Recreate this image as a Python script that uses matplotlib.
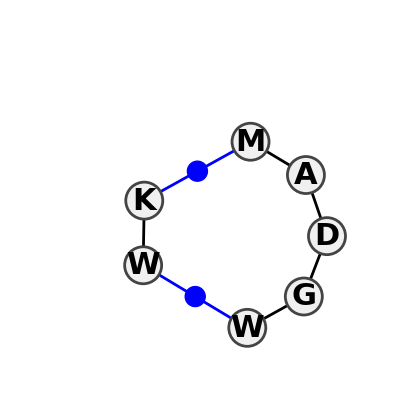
import numpy as np
import matplotlib
matplotlib.use("Agg")
import matplotlib.pyplot as plt
from matplotlib.patches import Circle

# ring order on the wheel; None marks an empty slot bridged by a linker
ring = ["M", "A", "D", "G", "W", None, "W", "K", None]
bond_colors = ["black", "black", "black", "black", "blue", "blue", "black", "blue", "blue"]

center = (232.5, 234.5)
radius = 94.5
start_angle = 79.0

fig = plt.figure(figsize=(4.0, 4.03), dpi=100)
ax = fig.add_axes([0, 0, 1, 1])
ax.set_xlim(0, 400)
ax.set_ylim(403, 0)
ax.set_aspect("equal")
ax.axis("off")

n = len(ring)
ang = np.deg2rad(start_angle - 360.0 / n * np.arange(n))
xs = center[0] + radius * np.cos(ang)
ys = center[1] - radius * np.sin(ang)

res_idx = [i for i, r in enumerate(ring) if r is not None]
for k, i in enumerate(res_idx):
    j = res_idx[(k + 1) % len(res_idx)]
    col = bond_colors[i]
    ax.plot([xs[i], xs[j]], [ys[i], ys[j]], color=col, lw=2.0, zorder=1,
            solid_capstyle="butt")
    if col == "blue":
        ax.add_patch(Circle(((xs[i] + xs[j]) / 2, (ys[i] + ys[j]) / 2), 10,
                            color="blue", zorder=2))

for i in res_idx:
    ax.add_patch(Circle((xs[i], ys[i]), 18.5, facecolor="#f0f0f0", edgecolor="#444444",
                        lw=2.0, zorder=2))
    ax.text(xs[i], ys[i] + 0.5, ring[i], ha="center", va="center", fontsize=22,
            fontweight="bold", color="black", zorder=3)

fig.savefig("out.png", dpi=100)
